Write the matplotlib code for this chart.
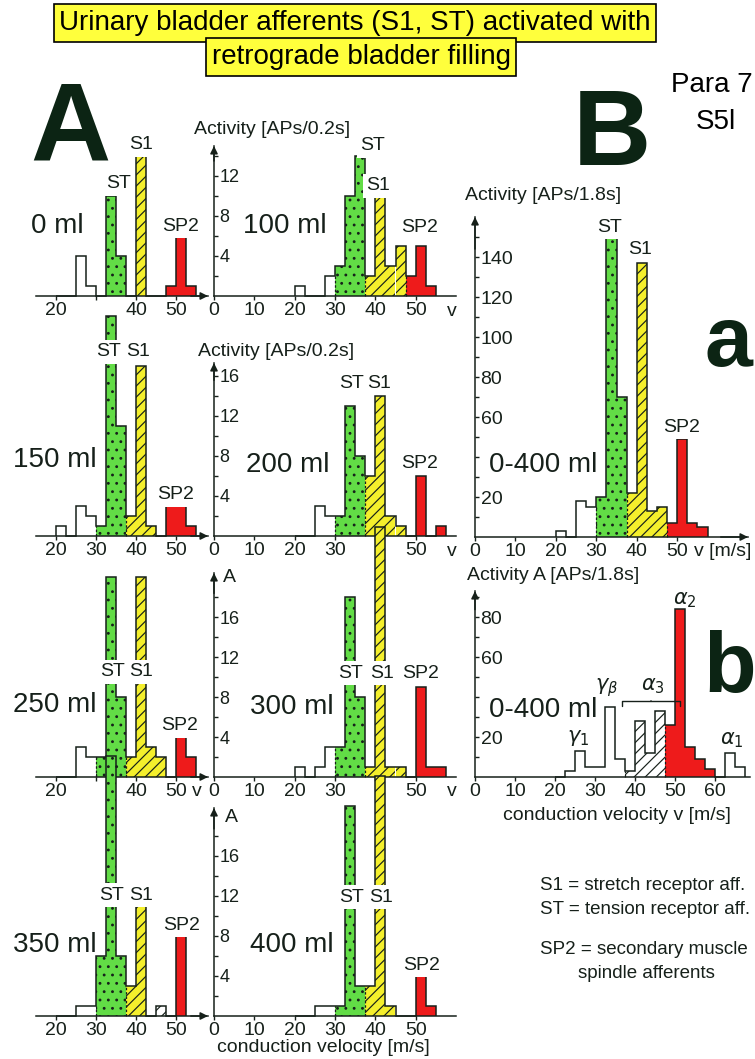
import numpy as np
import matplotlib
matplotlib.use("Agg")
import matplotlib.pyplot as plt

plt.rcParams['font.family'] = ['Liberation Sans', 'DejaVu Sans']
plt.rcParams['hatch.linewidth'] = 0.85
plt.rcParams['mathtext.fontset'] = 'dejavusans'

# ---------------- data (bins of 2.5 m/s starting at 20 m/s) ----------------
BIN_START = 20.0
BIN_WIDTH = 2.5

# group codes: w = unclassified (open), g = ST (green), y = S1 (yellow hatched),
#              r = SP2 / alpha2 (red), h = open hatched
h_0ml = [0, 0, 4, 1, 0, 10, 4, 0, 14, 0, 0, 1, 6, 1]
g_0ml = "wwwwwggyyyyrrr"
h_100ml = [1, 0, 0, 2, 3, 10, 14, 2, 10, 3, 5, 2, 5, 1]
g_100ml = "wwwwgggyyyyrrr"
h_150ml = [1, 0, 3, 2, 1, 22, 11, 2, 17, 1, 0, 3, 3, 1]
g_150ml = "wwwwgggyyyyrrr"
h_200ml = [0, 0, 3, 2, 2, 13, 8, 6, 14, 2, 1, 0, 6, 0, 1]
g_200ml = "wwwwgggyyyyrrrr"
h_250ml = [0, 0, 3, 2, 2, 20, 8, 2, 20, 3, 2, 0, 4, 2]
g_250ml = "wwwwgggyyyyrrr"
h_300ml = [1, 0, 1, 3, 3, 18, 8, 1, 25, 1, 1, 0, 9, 1, 1]
g_300ml = "wwwwgggyyyyrrrr"
h_350ml = [0, 0, 1, 1, 6, 26, 6, 3, 11, 0, 1, 0, 8]
g_350ml = "wwwwgggyyyhrr"
h_400ml = [0, 0, 1, 1, 1, 21, 3, 3, 24, 1, 0, 0, 4, 1]
g_400ml = "wwwwgggyyyyrrr"

h_Ba = [3, 0, 18, 15, 20, 150, 70, 22, 137, 13, 15, 7, 49, 7, 5]
g_Ba = "wwwwgggyyyyrrrr"
h_Bb = [0, 3, 13, 5, 5, 35, 9, 3, 28, 12, 33, 26, 84, 15, 9, 4, 0, 12, 5]
g_Bb = "wwwwwwwhhhhrrrrrrww"

left_ticks = [20, 30, 40, 50]
right_ticks = [0, 10, 20, 30, 40, 50]
B_ticks_a = [0, 10, 20, 30, 40, 50]
B_ticks_b = [0, 10, 20, 30, 40, 50, 60]

# ---------------- styles ----------------
GREEN = '#62dc46'
YELLOW = '#f4ef2c'
RED = '#ee1b1b'
INK = '#16201a'
BIG = '#0c2414'
STYLE = {
    'w': dict(fc='white', hatch=None),
    'g': dict(fc=GREEN, hatch='..'),
    'y': dict(fc=YELLOW, hatch='///'),
    'r': dict(fc=RED, hatch=None),
    'h': dict(fc='white', hatch='///'),
}

W, H = 755, 1059
fig = plt.figure(figsize=(W / 100, H / 100), dpi=100)


def add_ax(x0, x1, ybase, ytop):
    ax = fig.add_axes([x0 / W, 1 - ybase / H, (x1 - x0) / W, (ybase - ytop) / H])
    ax.patch.set_alpha(0)
    return ax


def T(x, y, s, **kw):
    kw.setdefault('ha', 'center')
    kw.setdefault('va', 'center')
    kw.setdefault('color', INK)
    return fig.text(x / W, 1 - y / H, s, **kw)


def draw_hist(ax, heights, groups):
    n = len(heights)
    edges = BIN_START + BIN_WIDTH * np.arange(n + 1)
    for i in range(n):
        if heights[i] <= 0:
            continue
        st = STYLE[groups[i]]
        ax.bar(edges[i], heights[i], width=BIN_WIDTH, align='edge',
               color=st['fc'], hatch=st['hatch'], edgecolor=INK,
               linewidth=0, clip_on=False, zorder=2)
    ax.stairs(heights, edges, baseline=0, color=INK, lw=1.1,
              clip_on=False, zorder=3)
    for i in range(1, n):
        if groups[i] != groups[i - 1] and heights[i] > 0 and heights[i - 1] > 0:
            ax.vlines(edges[i], 0, min(heights[i], heights[i - 1]),
                      colors=INK, lw=0.9, linestyles=(0, (2, 1.5)),
                      zorder=3, clip_on=False)


def arrow(ax, xy, xytext):
    ax.annotate('', xy=xy, xytext=xytext, xycoords='axes fraction',
                arrowprops=dict(arrowstyle='-|>', color=INK, lw=1.1,
                                mutation_scale=11, shrinkA=0, shrinkB=0))


def style_common(ax):
    for s in ['top', 'right']:
        ax.spines[s].set_visible(False)
    for s in ['left', 'bottom']:
        ax.spines[s].set_color(INK)
        ax.spines[s].set_linewidth(1.1)
    ax.tick_params(colors=INK, labelcolor=INK)


def setup_left(ax, ymax, labels):
    style_common(ax)
    ax.spines['left'].set_visible(False)
    ax.set_xlim(15, 58)
    ax.set_ylim(0, ymax)
    ax.set_yticks([])
    ax.set_xticks(left_ticks, labels)
    ax.tick_params(axis='x', direction='out', length=3, width=1, pad=1, labelsize=14)
    arrow(ax, (1, 0), (0.9, 0))


def setup_right(ax, ymax, ytick_top, labels, xlim=(0, 60), xticks=right_ticks,
                yticks_step=2, label_every=4, hidden=(), ylsize=13):
    style_common(ax)
    ax.set_xlim(*xlim)
    ax.set_ylim(0, ymax)
    ax.set_xticks(xticks, labels)
    ax.tick_params(axis='x', direction='out', length=3, width=1, pad=1, labelsize=14)
    yt = np.arange(yticks_step, ytick_top + 0.01, yticks_step)
    ylab = [(f'{int(v)}' if (v % label_every == 0 and v not in hidden) else '') for v in yt]
    ax.set_yticks(yt, ylab)
    ax.tick_params(axis='y', direction='in', length=3, width=1, pad=-4, labelsize=ylsize)
    for lab in ax.get_yticklabels():
        lab.set_ha('left')
    arrow(ax, (0, 1), (0, 0.9))


# ---------------- panel A ----------------
ROW_BASE = [296, 536, 777, 1016]
ROW_YMAX = [15, 17.3, 20.4, 20.8]
ROW_YTOP = [14, 16, 18, 18]
LX0, LX1 = 36, 208
RX0, RX1 = 214, 456

panels_left = [(h_0ml, g_0ml, ['20', '', '40', '50']),
               (h_150ml, g_150ml, ['20', '30', '40', '50']),
               (h_250ml, g_250ml, ['20', '', '40', '50']),
               (h_350ml, g_350ml, ['20', '30', '40', '50'])]
panels_right = [(h_100ml, g_100ml, ['0', '10', '20', '30', '40', '50']),
                (h_200ml, g_200ml, ['0', '10', '20', '30', '', '50']),
                (h_300ml, g_300ml, ['0', '10', '20', '30', '', '50']),
                (h_400ml, g_400ml, ['0', '10', '20', '30', '40', '50'])]

for r in range(4):
    base, ymax = ROW_BASE[r], ROW_YMAX[r]
    top = base - 10 * ymax
    hl, gl, labl = panels_left[r]
    axl = add_ax(LX0, LX1, base, top)
    setup_left(axl, ymax, labl)
    draw_hist(axl, hl, gl)
    hr, gr, labr = panels_right[r]
    axr = add_ax(RX0, RX1, base, top)
    setup_right(axr, ymax, ROW_YTOP[r], labr)
    draw_hist(axr, hr, gr)

# panel B a
axa = add_ax(475, 748, 537, 217)
setup_right(axa, 160, 150, B_ticks_a, xlim=(0, 67.5), xticks=B_ticks_a,
            yticks_step=10, label_every=20, hidden=(40,), ylsize=14)
draw_hist(axa, h_Ba, g_Ba)
arrow(axa, (1, 0), (0.9, 0))

# panel B b
axb = add_ax(475, 750, 777, 591)
setup_right(axb, 93, 90, B_ticks_b, xlim=(0, 68.75), xticks=B_ticks_b,
            yticks_step=10, label_every=20, hidden=(40,), ylsize=14)
draw_hist(axb, h_Bb, g_Bb)
axb.annotate('', xy=(44, 36.5), xytext=(44, 39.5), xycoords='data',
             arrowprops=dict(arrowstyle='-[, widthB=2.1, lengthB=0.35', color=INK, lw=1.0))

# ---------------- text ----------------
WB = dict(fc='white', ec='none', pad=2.5)
LBL = dict(fontsize=14, bbox=WB)

TFAM = ['Liberation Sans Narrow', 'Liberation Sans', 'DejaVu Sans']
T(355, 23, 'Urinary bladder afferents (S1, ST) activated with', fontsize=20, family=TFAM,
  color='black', bbox=dict(boxstyle='square,pad=0.2', fc='#ffff3c', ec='black', lw=1.2))
T(361, 57, 'retrograde bladder filling', fontsize=20, family=TFAM, color='black',
  bbox=dict(boxstyle='square,pad=0.2', fc='#ffff3c', ec='black', lw=1.2))
T(712, 85, 'Para 7', fontsize=20, family=TFAM, color='black')
T(716, 122, 'S5l', fontsize=20, family=TFAM, color='black')

T(70, 132, 'A', fontsize=80, weight='bold', color=BIG)
T(612, 137, 'B', fontsize=78, weight='bold', color=BIG)
T(728, 344, 'a', fontsize=62, weight='bold', color=BIG)
T(730, 670, 'b', fontsize=62, weight='bold', color=BIG)

# row 1
T(272, 130, 'Activity [APs/0.2s]', fontsize=14)
T(57, 226, '0 ml', fontsize=20)
T(119, 184, 'ST', **LBL)
T(141, 145, 'S1', **LBL)
T(181, 226, 'SP2', **LBL)
T(285, 226, '100 ml', fontsize=20)
T(373, 146, 'ST', **LBL)
T(378, 186, 'S1', **LBL)
T(420, 227, 'SP2', **LBL)
T(452, 312, 'v', fontsize=14)

# row 2
T(276, 352, 'Activity [APs/0.2s]', fontsize=14)
T(55, 460, '150 ml', fontsize=20)
T(109, 352, 'ST', **LBL)
T(138, 352, 'S1', **LBL)
T(176, 495, 'SP2', **LBL)
T(288, 465, '200 ml', fontsize=20)
T(352, 383, 'ST', **LBL)
T(379, 383, 'S1', **LBL)
T(420, 463, 'SP2', **LBL)
T(452, 552, 'v', fontsize=14)

# row 3
T(229, 578, 'A', fontsize=14)
T(55, 705, '250 ml', fontsize=20)
T(113, 672, 'ST', **LBL)
T(141, 672, 'S1', **LBL)
T(180, 726, 'SP2', **LBL)
T(292, 707, '300 ml', fontsize=20)
T(351, 673, 'ST', **LBL)
T(382, 673, 'S1', **LBL)
T(421, 673, 'SP2', **LBL)
T(197, 792, 'v', fontsize=14)
T(452, 792, 'v', fontsize=14)

# row 4
T(231, 818, 'A', fontsize=14)
T(55, 945, '350 ml', fontsize=20)
T(112, 895, 'ST', **LBL)
T(141, 895, 'S1', **LBL)
T(182, 925, 'SP2', **LBL)
T(292, 945, '400 ml', fontsize=20)
T(352, 897, 'ST', **LBL)
T(381, 897, 'S1', **LBL)
T(422, 965, 'SP2', **LBL)
T(323, 1047, 'conduction velocity [m/s]', fontsize=14)

# panel B a
T(543, 196, 'Activity [APs/1.8s]', fontsize=14)
T(610, 227, 'ST', **LBL)
T(640, 250, 'S1', **LBL)
T(682, 427, 'SP2', **LBL)
T(543, 465, '0-400 ml', fontsize=20)
T(723, 552, 'v [m/s]', fontsize=14)

# panel B b
T(553, 575, 'Activity A [APs/1.8s]', fontsize=14)
T(685, 600, r'$\alpha_2$', fontsize=15)
T(607, 688, r'$\gamma_\beta$', fontsize=15)
T(653, 686, r'$\alpha_3$', fontsize=15)
T(578, 738, r'$\gamma_1$', fontsize=15)
T(732, 740, r'$\alpha_1$', fontsize=15)
T(543, 710, '0-400 ml', fontsize=20, bbox=dict(fc='white', ec='none', pad=0))
T(617, 815, 'conduction velocity v [m/s]', fontsize=14)

# legend notes
T(540, 885, 'S1 = stretch receptor aff.', fontsize=13.5, ha='left')
T(540, 910, 'ST = tension receptor aff.', fontsize=13.5, ha='left')
T(540, 950, 'SP2 = secondary muscle', fontsize=13.5, ha='left')
T(578, 974, 'spindle afferents', fontsize=13.5, ha='left')

fig.savefig('out.png', dpi=100)
